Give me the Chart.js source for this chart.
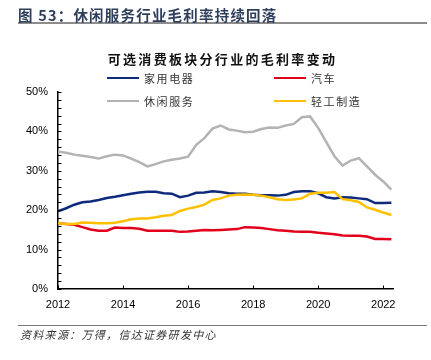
<!DOCTYPE html>
<html>
<head>
<meta charset="utf-8">
<script src="https://cdn.jsdelivr.net/npm/chart.js@4"></script>
<style>
  body { margin: 0; width: 431px; height: 360px; background: #fff; position: relative; overflow: hidden;
         font-family: "Noto Sans CJK SC", "Liberation Sans", sans-serif; }
  #chart { position: absolute; left: 0; top: 0; }
  .txt { position: absolute; white-space: nowrap; z-index: 2; }
  #fig-title { left: 18px; top: 4px; font-size: 14.5px; font-weight: bold; color: #2e3f5c; letter-spacing: 1.2px; }
  #rule-top { position: absolute; left: 18px; top: 22px; width: 409px; height: 2px; background: #8c8c8c; }
  #chart-title { left: 0; width: 445px; top: 49px; text-align: center; font-size: 13px; font-weight: bold; color: #111; letter-spacing: 2.3px; }
  .leg { position: absolute; z-index: 2; display: flex; align-items: center; font-size: 11px; color: #333; letter-spacing: 1.6px; }
  .leg i { display: inline-block; width: 32px; height: 2.5px; margin-right: 5px; }
  #rule-bottom { position: absolute; left: 18px; top: 325px; width: 409px; height: 1px; background: #777; }
  #source { left: 20px; top: 326px; font-size: 11px; font-style: italic; color: #333; letter-spacing: 1.3px; }
</style>
</head>
<body>
<div class="txt" id="fig-title">图 53：休闲服务行业毛利率持续回落</div>
<div id="rule-top"></div>
<div class="txt" id="chart-title">可选消费板块分行业的毛利率变动</div>
<div id="legend"></div>
<canvas id="chart" width="431" height="360"></canvas>
<div id="rule-bottom"></div>
<div class="txt" id="source">资料来源：万得，信达证券研发中心</div>
<script>
// 季度（2012Q1 - 2022Q2）
const quarters = [
  '2012Q1','2012Q2','2012Q3','2012Q4','2013Q1','2013Q2','2013Q3','2013Q4',
  '2014Q1','2014Q2','2014Q3','2014Q4','2015Q1','2015Q2','2015Q3','2015Q4',
  '2016Q1','2016Q2','2016Q3','2016Q4','2017Q1','2017Q2','2017Q3','2017Q4',
  '2018Q1','2018Q2','2018Q3','2018Q4','2019Q1','2019Q2','2019Q3','2019Q4',
  '2020Q1','2020Q2','2020Q3','2020Q4','2021Q1','2021Q2','2021Q3','2021Q4',
  '2022Q1','2022Q2'
];
const xTickYears = [2012, 2014, 2016, 2018, 2020, 2022];

// 毛利率 (%)
const appliances = [
  19.7, 20.5, 21.4, 22.0, 22.2, 22.6, 23.1, 23.4, 23.8, 24.2, 24.5, 24.7, 24.7, 24.3,
  24.2, 23.3, 23.7, 24.4, 24.5, 24.8, 24.6, 24.3, 24.2, 24.2, 23.9, 23.8, 23.8, 23.7,
  23.9, 24.6, 24.8, 24.8, 24.3, 23.3, 23.0, 23.3, 23.2, 23.0, 22.8, 21.8, 21.8, 21.9
];
const autos = [
  16.7, 16.5, 16.3, 15.7, 15.1, 14.8, 14.8, 15.6, 15.5, 15.5, 15.3, 14.8, 14.8, 14.8,
  14.8, 14.5, 14.6, 14.8, 15.0, 14.9, 15.0, 15.1, 15.2, 15.7, 15.6, 15.5, 15.2, 14.9,
  14.8, 14.6, 14.5, 14.5, 14.3, 14.1, 13.9, 13.6, 13.5, 13.5, 13.3, 12.7, 12.7, 12.6
];
const leisure = [
  34.9, 34.6, 34.1, 33.8, 33.5, 33.1, 33.7, 34.1, 33.9, 33.1, 32.2, 31.1, 31.7, 32.4,
  32.8, 33.1, 33.6, 36.6, 38.3, 40.7, 41.5, 40.5, 40.2, 39.8, 39.9, 40.6, 41.0, 40.9,
  41.5, 41.9, 43.6, 43.8, 40.9, 37.3, 33.7, 31.3, 32.6, 33.2, 31.1, 29.0, 27.3, 25.2
];
const lightIndustry = [
  16.7, 16.5, 16.5, 16.9, 16.8, 16.7, 16.7, 16.8, 17.2, 17.7, 17.9, 17.9, 18.2, 18.6,
  18.8, 19.8, 20.4, 20.8, 21.4, 22.6, 23.0, 23.7, 23.9, 24.0, 23.9, 23.7, 23.3, 22.8,
  22.6, 22.7, 23.0, 24.2, 24.4, 24.4, 24.6, 22.8, 22.5, 22.1, 20.7, 20.1, 19.4, 18.8
];

const seriesNames = ['家用电器', '汽车', '休闲服务', '轻工制造'];
const seriesColors = ['#0d2a7c', '#e3001b', '#b3b3b3', '#ffc000'];
const seriesValues = [appliances, autos, leisure, lightIndustry];

const toX = (q) => parseInt(q.slice(0, 4)) + (parseInt(q.slice(5)) - 1) / 4;

const datasets = seriesNames.map((name, i) => ({
  label: name,
  data: seriesValues[i].map((v, j) => ({ x: toX(quarters[j]), y: v })),
  borderColor: seriesColors[i],
  borderWidth: 2.5,
  pointRadius: 0,
  tension: 0,
  fill: false,
}));
// 先画灰线，其他线压在上面
const drawOrder = [1, 2, 3, 0];
datasets.forEach((d, i) => { d.order = drawOrder[i]; });

// 图例（两列）
const legendPos = [[107, 78], [274, 78], [107, 101], [274, 101]];
const legendEl = document.getElementById('legend');
seriesNames.forEach((name, i) => {
  const el = document.createElement('div');
  el.className = 'leg';
  el.style.left = legendPos[i][0] + 'px';
  el.style.top = (legendPos[i][1] - 8) + 'px';
  el.style.height = '16px';
  el.innerHTML = '<i style="background:' + seriesColors[i] + '"></i>' + name;
  legendEl.appendChild(el);
});

const innerTicks = {
  id: 'innerTicks',
  afterDraw(chart) {
    const { ctx, chartArea, scales } = chart;
    ctx.save();
    ctx.strokeStyle = '#000';
    ctx.lineWidth = 1;
    for (let v = 0; v <= 50; v += 2) {
      const y = Math.round(scales.y.getPixelForValue(v)) + 0.5;
      ctx.beginPath();
      ctx.moveTo(chartArea.left, y);
      ctx.lineTo(chartArea.left + 3.5, y);
      ctx.stroke();
    }
    scales.x.ticks.forEach((t) => {
      const x = Math.round(scales.x.getPixelForValue(t.value)) + 0.5;
      ctx.beginPath();
      ctx.moveTo(x, chartArea.bottom);
      ctx.lineTo(x, chartArea.bottom - 3.5);
      ctx.stroke();
    });
    ctx.restore();
  }
};

new Chart(document.getElementById('chart').getContext('2d'), {
  type: 'line',
  data: { datasets },
  plugins: [innerTicks],
  options: {
    responsive: false,
    animation: false,
    layout: { padding: { left: 0, right: 38, top: 92, bottom: 0 } },
    plugins: { legend: { display: false }, tooltip: { enabled: false } },
    scales: {
      x: {
        type: 'linear',
        min: 2012,
        max: 2022.3,
        afterBuildTicks: (scale) => {
          scale.ticks = xTickYears.map((v) => ({ value: v }));
        },
        afterFit: (scale) => { scale.height = 71; },
        grid: { display: false, drawTicks: false },
        border: { display: true, color: '#000', width: 1.5 },
        ticks: {
          padding: 9,
          color: '#000',
          font: { family: 'Liberation Sans', size: 11 },
          maxRotation: 0,
          autoSkip: false,
          callback: (v) => String(v),
        },
      },
      y: {
        min: 0,
        max: 50,
        afterFit: (scale) => { scale.width = 58; },
        grid: { display: false, drawTicks: false },
        border: { display: true, color: '#000', width: 1.5 },
        ticks: {
          stepSize: 10,
          padding: 10,
          color: '#000',
          font: { family: 'Liberation Sans', size: 11 },
          callback: (v) => v + '%',
        },
      },
    },
  },
});
</script>
</body>
</html>
